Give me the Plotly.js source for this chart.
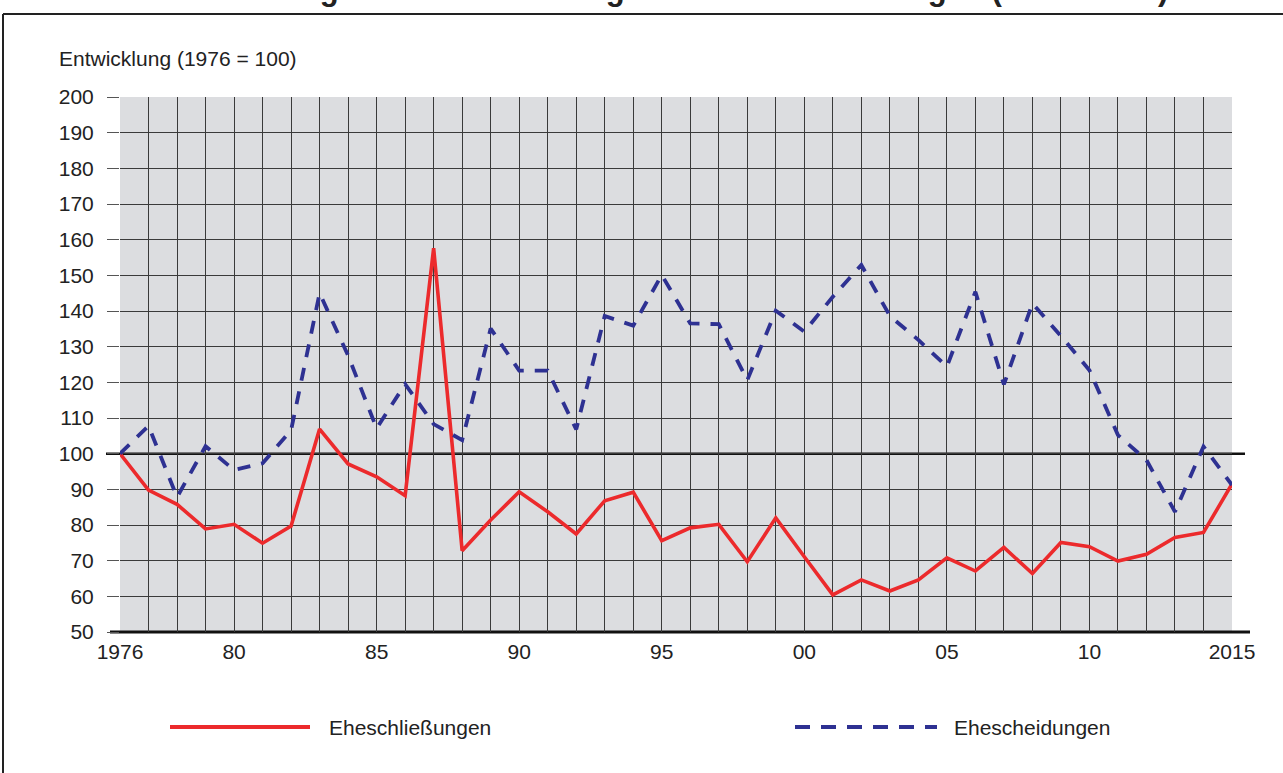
<!DOCTYPE html>
<html>
<head>
<meta charset="utf-8">
<script src="https://cdn.plot.ly/plotly-3.0.1.min.js"></script>
<style>html,body{margin:0;padding:0;background:#fff;}#chart{width:1283px;height:773px;}</style>
</head>
<body>
<div id="chart"></div>
<script>
const years = [1976,1977,1978,1979,1980,1981,1982,1983,1984,1985,1986,1987,1988,1989,1990,1991,1992,1993,1994,1995,1996,1997,1998,1999,2000,2001,2002,2003,2004,2005,2006,2007,2008,2009,2010,2011,2012,2013,2014,2015];
const eheschliessungen = [100,89.8,85.8,78.9,80.2,74.9,79.7,106.9,97.1,93.5,88.2,157.6,72.8,81.4,89.3,83.7,77.5,86.8,89.2,75.6,79.2,80.2,69.7,82.0,71.1,60.4,64.6,61.5,64.6,70.8,67.1,73.7,66.4,75.1,73.9,69.9,71.8,76.5,77.9,91.5];
const ehescheidungen = [100,107.8,87.8,102.1,95.4,97.3,106.6,145.0,127.5,107.1,119.5,108.3,103.8,135.1,123.3,123.3,106.8,138.6,135.9,150.1,136.5,136.3,120.6,140.1,134.2,144.0,152.9,138.6,131.9,124.4,145.4,119.4,142.1,133.0,123.4,105.2,98.2,83.7,102.0,91.2];
const xTickVals = [1976,1980,1985,1990,1995,2000,2005,2010,2015];
const xTickText = ["1976","80","85","90","95","00","05","10","2015"];
const seriesNames = ["Eheschließungen","Ehescheidungen"];
const titleText = "Grafik 3: Entwicklung der Eheschließungen und Ehescheidungen (1976 = 100)";
const yAxisLabel = "Entwicklung (1976 = 100)";

const W = 1283, H = 773;
const L = 120, R = 51, T = 97, B = 141;
const pw = W - L - R, ph = H - T - B;
const px = x => (x - L) / pw;
const py = y => (H - B - y) / ph;

const red = "#ec2a2c", blue = "#2e3192";
const font = "Liberation Sans, Arial, sans-serif";
const fs = 21;

const traces = [
  {x: years, y: eheschliessungen, name: seriesNames[0], type: "scatter", mode: "lines",
   line: {color: red, width: 3.6}, showlegend: false},
  {x: years, y: ehescheidungen, name: seriesNames[1], type: "scatter", mode: "lines",
   line: {color: blue, width: 3.8, dash: "13px,11px"}, showlegend: false}
];

const layout = {
  width: W, height: H,
  margin: {l: L, r: R, t: T, b: B, pad: 0},
  paper_bgcolor: "#ffffff",
  plot_bgcolor: "#dcdde0",
  font: {family: font, size: fs, color: "#222"},
  showlegend: false,
  title: {text: "<b>" + titleText + "</b>", font: {family: font, size: 31, color: "#222"},
          x: 595 / W, xanchor: "center", xref: "container", yref: "container",
          y: 1, yanchor: "bottom"},
  xaxis: {range: [1976, 2015], tickvals: xTickVals, ticktext: xTickText,
          showgrid: true, gridcolor: "#3a3a3a", gridwidth: 1,
          minor: {dtick: 1, tick0: 1976, showgrid: true, gridcolor: "#3a3a3a", gridwidth: 1},
          ticks: "", ticklabelstandoff: 5, zeroline: false, showline: false,
          tickfont: {family: font, size: fs, color: "#222"}, fixedrange: true},
  yaxis: {range: [50, 200], dtick: 10, tick0: 50, showgrid: true, gridcolor: "#3a3a3a", gridwidth: 1,
          ticks: "outside", ticklen: 12, tickcolor: "#555", tickwidth: 1, ticklabelstandoff: 9,
          zeroline: false, showline: false,
          tickfont: {family: font, size: fs, color: "#222"}, fixedrange: true},
  shapes: [
    {type: "line", xref: "paper", yref: "paper", x0: px(106), x1: px(1245), y0: 1/3, y1: 1/3,
     line: {color: "#111", width: 2.5}, layer: "below"},
    {type: "line", xref: "paper", yref: "paper", x0: px(110), x1: px(1250), y0: 0, y1: 0,
     line: {color: "#111", width: 3}, layer: "below"},
    {type: "line", xref: "paper", yref: "paper", x0: px(3), x1: px(1300), y0: py(14), y1: py(14),
     line: {color: "#222", width: 2}, layer: "above"},
    {type: "line", xref: "paper", yref: "paper", x0: px(3), x1: px(3), y0: py(14), y1: py(800),
     line: {color: "#222", width: 2}, layer: "above"},
    {type: "line", xref: "paper", yref: "paper", x0: px(170), x1: px(310), y0: py(727), y1: py(727),
     line: {color: red, width: 4}, layer: "above"},
    {type: "line", xref: "paper", yref: "paper", x0: px(795), x1: px(937), y0: py(727), y1: py(727),
     line: {color: blue, width: 4, dash: "15px,11px"}, layer: "above"}
  ],
  annotations: [
    {text: yAxisLabel, xref: "paper", yref: "paper", x: px(57), y: py(58), xanchor: "left", yanchor: "middle",
     showarrow: false, font: {family: font, size: fs, color: "#222"}},
    {text: seriesNames[0], xref: "paper", yref: "paper", x: px(327), y: py(727), xanchor: "left", yanchor: "middle",
     showarrow: false, font: {family: font, size: fs, color: "#222"}},
    {text: seriesNames[1], xref: "paper", yref: "paper", x: px(952), y: py(727), xanchor: "left", yanchor: "middle",
     showarrow: false, font: {family: font, size: fs, color: "#222"}}
  ]
};

Plotly.newPlot("chart", traces, layout, {displayModeBar: false, staticPlot: true});
</script>
</body>
</html>
